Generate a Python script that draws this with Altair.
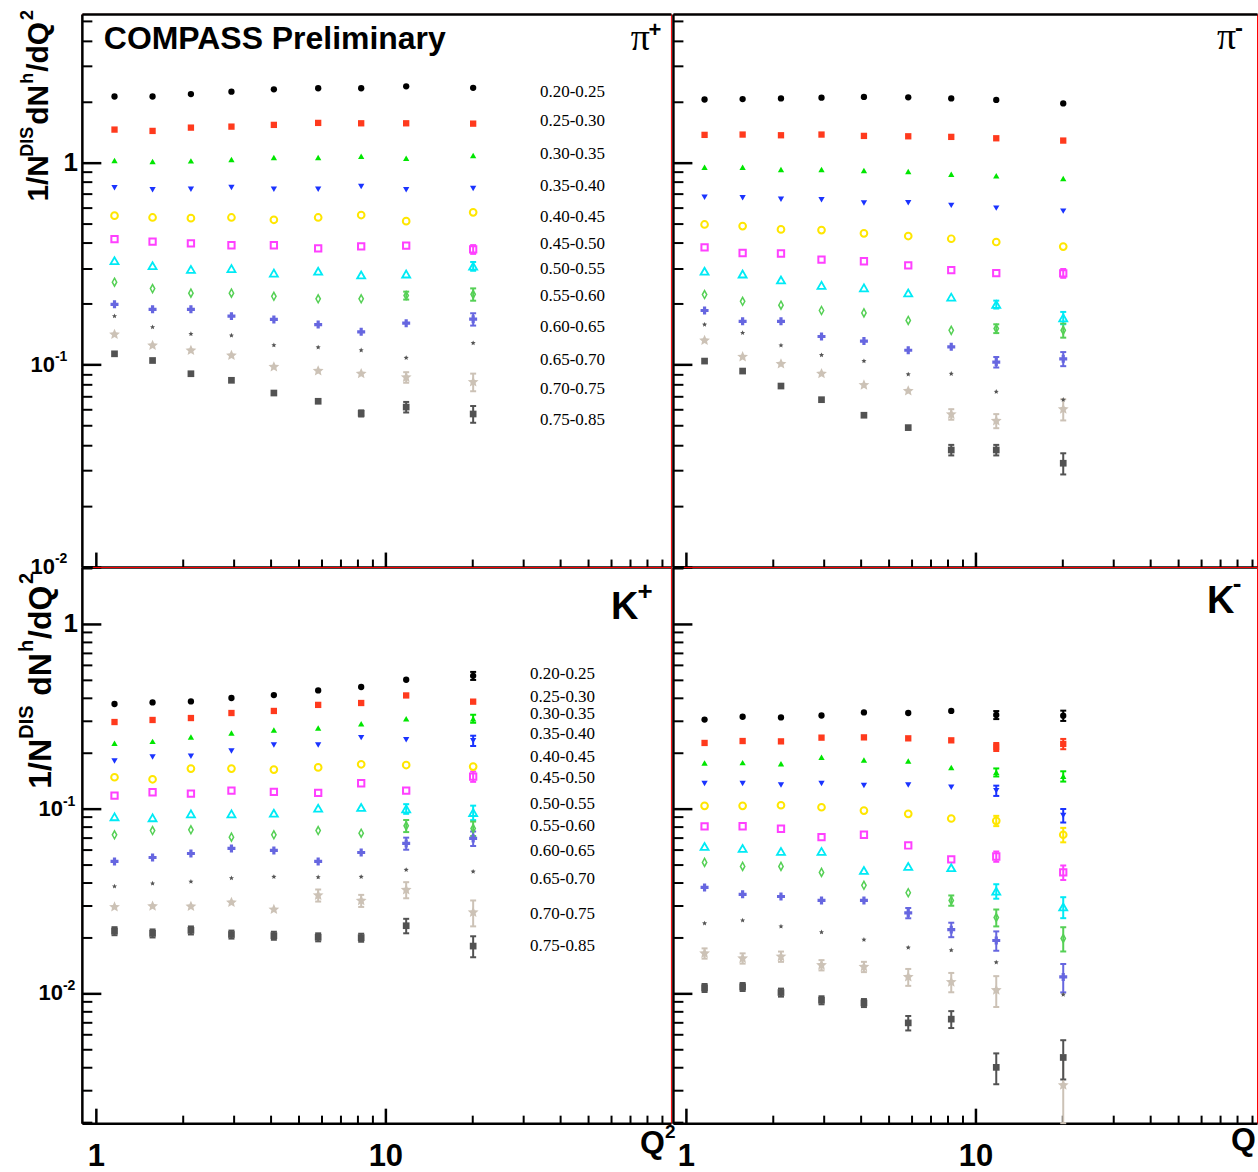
import altair as alt
import pandas as pd

# ---------------- data ----------------
Q2_BINS = [1.16, 1.57, 2.13, 2.94, 4.12, 5.86, 8.25, 11.8, 20.1]
Z_BINS = ["0.20-0.25", "0.25-0.30", "0.30-0.35", "0.35-0.40", "0.40-0.45", "0.45-0.50",
          "0.50-0.55", "0.55-0.60", "0.60-0.65", "0.65-0.70", "0.70-0.75", "0.75-0.85"]

PI_PLUS = [
    [2.12, 2.12, 2.18, 2.24, 2.30, 2.33, 2.33, 2.38, 2.34],
    [1.455, 1.433, 1.488, 1.505, 1.535, 1.570, 1.563, 1.563, 1.557],
    [1.023, 1.011, 1.019, 1.035, 1.058, 1.058, 1.074, 1.050, 1.083],
    [0.750, 0.733, 0.738, 0.753, 0.738, 0.738, 0.761, 0.733, 0.744],
    [0.546, 0.535, 0.531, 0.535, 0.521, 0.535, 0.550, 0.513, 0.567],
    [0.418, 0.406, 0.398, 0.390, 0.390, 0.376, 0.385, 0.388, 0.372],
    [0.327, 0.309, 0.296, 0.299, 0.284, 0.290, 0.278, 0.281, 0.307],
    [0.256, 0.238, 0.226, 0.226, 0.218, 0.212, 0.212, 0.220, 0.223],
    [0.199, 0.188, 0.188, 0.174, 0.1675, 0.158, 0.1455, 0.1605, 0.168],
    [0.174, 0.1535, 0.142, 0.1396, 0.125, 0.122, 0.118, 0.1083, 0.128],
    [0.1413, 0.1247, 0.1178, 0.1112, 0.0977, 0.0933, 0.0903, 0.0867, 0.0822],
    [0.1133, 0.105, 0.0903, 0.0838, 0.0725, 0.0660, 0.0575, 0.0618, 0.0571],
]
PI_MINUS = [
    [2.05, 2.06, 2.075, 2.093, 2.11, 2.10, 2.075, 2.04, 1.96],
    [1.37, 1.375, 1.364, 1.375, 1.354, 1.348, 1.339, 1.318, 1.284],
    [0.948, 0.948, 0.924, 0.924, 0.913, 0.903, 0.876, 0.860, 0.834],
    [0.674, 0.669, 0.659, 0.655, 0.630, 0.633, 0.614, 0.595, 0.575],
    [0.494, 0.485, 0.467, 0.4635, 0.4466, 0.433, 0.420, 0.4045, 0.384],
    [0.381, 0.357, 0.355, 0.331, 0.325, 0.310, 0.294, 0.284, 0.2833],
    [0.290, 0.281, 0.2625, 0.247, 0.240, 0.2265, 0.216, 0.1986, 0.1706],
    [0.2225, 0.206, 0.197, 0.1855, 0.1805, 0.1656, 0.148, 0.151, 0.148],
    [0.1855, 0.164, 0.164, 0.138, 0.131, 0.118, 0.1227, 0.1031, 0.107],
    [0.158, 0.1438, 0.1247, 0.1117, 0.1043, 0.0897, 0.0903, 0.0736, 0.0672],
    [0.132, 0.1095, 0.101, 0.0903, 0.0794, 0.0742, 0.0569, 0.0528, 0.0603],
    [0.1043, 0.0931, 0.0785, 0.0672, 0.0563, 0.0489, 0.0379, 0.0379, 0.0326],
]
K_PLUS = [
    [0.368, 0.3755, 0.380, 0.3967, 0.4116, 0.436, 0.455, 0.498, 0.523],
    [0.294, 0.3016, 0.309, 0.329, 0.3375, 0.364, 0.3727, 0.4095, 0.379],
    [0.2254, 0.231, 0.244, 0.2567, 0.2663, 0.273, 0.288, 0.3066, 0.3066],
    [0.181, 0.190, 0.1919, 0.205, 0.221, 0.221, 0.242, 0.236, 0.233],
    [0.1477, 0.144, 0.1645, 0.1645, 0.1625, 0.167, 0.1736, 0.172, 0.1687],
    [0.1175, 0.1225, 0.1205, 0.125, 0.123, 0.1215, 0.137, 0.125, 0.149],
    [0.0902, 0.0891, 0.0936, 0.0936, 0.0943, 0.1004, 0.1013, 0.0996, 0.0951],
    [0.0721, 0.076, 0.0767, 0.070, 0.0721, 0.076, 0.0735, 0.0806, 0.078],
    [0.0517, 0.0543, 0.0571, 0.0608, 0.0593, 0.0517, 0.0578, 0.0647, 0.0689],
    [0.0379, 0.0393, 0.0402, 0.0420, 0.0427, 0.0425, 0.0427, 0.0466, 0.0456],
    [0.0293, 0.0296, 0.0295, 0.0310, 0.0284, 0.0339, 0.0317, 0.0363, 0.0274],
    [0.0217, 0.0211, 0.0219, 0.0208, 0.0205, 0.0201, 0.0200, 0.0232, 0.0180],
]
K_MINUS = [
    [0.303, 0.314, 0.3114, 0.319, 0.3315, 0.329, 0.3375, 0.321, 0.3184],
    [0.2265, 0.232, 0.231, 0.242, 0.2428, 0.2399, 0.234, 0.2156, 0.2238],
    [0.1766, 0.1772, 0.175, 0.1893, 0.1833, 0.181, 0.167, 0.157, 0.1495],
    [0.1365, 0.1365, 0.134, 0.1365, 0.1331, 0.134, 0.1303, 0.125, 0.0917],
    [0.1034, 0.1034, 0.1042, 0.1016, 0.0975, 0.0936, 0.0883, 0.0858, 0.0721],
    [0.080, 0.0802, 0.0777, 0.070, 0.0721, 0.0631, 0.053, 0.055, 0.0451],
    [0.0623, 0.0608, 0.0586, 0.0586, 0.0462, 0.0486, 0.0478, 0.0357, 0.0293],
    [0.0511, 0.0486, 0.0486, 0.0451, 0.0384, 0.0350, 0.0318, 0.0257, 0.0198],
    [0.0374, 0.0343, 0.0334, 0.0318, 0.0318, 0.0272, 0.0221, 0.0193, 0.01225],
    [0.0239, 0.0248, 0.0230, 0.0214, 0.0195, 0.01767, 0.0171, 0.0147, 0.00984],
    [0.01644, 0.01545, 0.0158, 0.0142, 0.0139, 0.01225, 0.0115, 0.0104, 0.00318],
    [0.01069, 0.01082, 0.01009, 0.00917, 0.00886, 0.00691, 0.00724, 0.00397, 0.00449],
]

# relative errors (series index, Q2 bin index) -> fraction, only where visible
ERR_PI_PLUS = {(11, 8): 0.095, (11, 7): 0.06, (11, 6): 0.035, (10, 8): 0.10, (10, 7): 0.06,
               (8, 8): 0.07, (7, 8): 0.07, (7, 7): 0.045, (6, 8): 0.05, (5, 8): 0.05}
ERR_PI_MINUS = {(11, 8): 0.12, (11, 7): 0.06, (11, 6): 0.06, (10, 8): 0.12, (10, 7): 0.08,
                (10, 6): 0.06, (8, 8): 0.08, (8, 7): 0.06, (7, 8): 0.08, (7, 7): 0.05,
                (6, 8): 0.07, (6, 7): 0.045, (5, 8): 0.05}
ERR_K_PLUS = {(11, 8): 0.13, (11, 7): 0.09, (11, 6): 0.05, (11, 5): 0.05, (11, 4): 0.05,
              (11, 3): 0.05, (11, 2): 0.05, (11, 1): 0.05, (11, 0): 0.05,
              (10, 8): 0.16, (10, 7): 0.10, (10, 6): 0.075, (10, 5): 0.075,
              (8, 8): 0.09, (8, 7): 0.075, (7, 8): 0.09, (7, 7): 0.075, (6, 8): 0.09,
              (6, 7): 0.06, (5, 8): 0.064, (3, 8): 0.064, (2, 8): 0.05, (0, 8): 0.05}
ERR_K_MINUS = {(11, 0): 0.05, (11, 1): 0.05, (11, 2): 0.05, (11, 3): 0.05, (11, 4): 0.05,
               (11, 5): 0.09, (11, 6): 0.105, (11, 7): 0.19, (11, 8): 0.24,
               (10, 0): 0.064, (10, 1): 0.064, (10, 2): 0.064, (10, 3): 0.064, (10, 4): 0.064,
               (10, 5): 0.105, (10, 6): 0.12, (10, 7): 0.19, (10, 8): 0.45,
               (8, 5): 0.064, (8, 6): 0.09, (8, 7): 0.12, (8, 8): 0.175,
               (7, 6): 0.064, (7, 7): 0.105, (7, 8): 0.15, (6, 7): 0.09, (6, 8): 0.13,
               (5, 7): 0.064, (5, 8): 0.09, (4, 7): 0.064, (4, 8): 0.09,
               (3, 7): 0.064, (3, 8): 0.084, (2, 7): 0.05, (2, 8): 0.064,
               (1, 7): 0.05, (1, 8): 0.064, (0, 7): 0.05, (0, 8): 0.064}

# annotation positions for the z-bin labels (data coordinates)
LABEL_Q2_PI = 34.2
LABEL_Y_PI = [2.24, 1.612, 1.099, 0.767, 0.537, 0.395, 0.2974, 0.218, 0.154, 0.1054, 0.0762, 0.0533]
LABEL_Q2_K = 31.6
LABEL_Y_K = [0.535, 0.400, 0.325, 0.2535, 0.191, 0.1466, 0.106, 0.080, 0.0586, 0.0417, 0.027, 0.01795]

Y_TICK_VALUES = [1, 0.1, 0.01]
Y_TICK_MANT = ["1", "10", "10"]
Y_TICK_EXP = ["", "-1", "-2"]
X_MAJOR = [1, 10]
X_MINOR = [2, 3, 4, 5, 6, 7, 8, 9, 20, 30, 40, 50, 60, 70, 80, 90]
Y_MAJOR = [0.01, 0.1, 1]
Y_MINOR = [0.002, 0.003, 0.004, 0.005, 0.006, 0.007, 0.008, 0.009,
           0.02, 0.03, 0.04, 0.05, 0.06, 0.07, 0.08, 0.09,
           0.2, 0.3, 0.4, 0.5, 0.6, 0.7, 0.8, 0.9, 2, 3, 4, 5]

# ---------------- styles ----------------
SANS = "Liberation Sans"
SERIF = "Liberation Serif"
STAR = ("M0,-1L0.270,-0.372L0.951,-0.309L0.437,0.142L0.588,0.809L0,0.46"
        "L-0.588,0.809L-0.437,0.142L-0.951,-0.309L-0.270,-0.372Z")
THIN_DIAMOND = "M0,-1L0.55,0L0,1L-0.55,0Z"
SERIES_COLOR = ["#000000", "#ff3a1d", "#00e600", "#1a33ff", "#ffe600", "#ff40ff",
                "#00eaf5", "#55d055", "#6666e0", "#555555", "#ccc2b6", "#525252"]
SERIES_FILL = ["#000000", "#ff3a1d", "#00e600", "#1a33ff", "transparent", "transparent",
               "transparent", "transparent", "#6666e0", "#555555", "#ccc2b6", "#525252"]
SERIES_SHAPE = ["circle", "square", "triangle-up", "triangle-down", "circle", "square",
                "triangle-up", THIN_DIAMOND, "cross", STAR, STAR, "square"]
SERIES_SIZE = [40, 40, 40, 40, 45, 40, 64, 64, 64, 28, 130, 45]
SERIES_SW = [0, 0, 0, 0, 2, 2, 1.8, 1.5, 0, 0, 0, 0]

ONE = pd.DataFrame({"k": [0]})


def make_df(values, errs):
    rows = []
    for si, z in enumerate(Z_BINS):
        for bi, q in enumerate(Q2_BINS):
            v = values[si][bi]
            e = errs.get((si, bi), 0.0)
            rows.append({"series": z, "q2": q, "val": v, "lo": v * (1 - e),
                         "hi": v * (1 + e), "err": e,
                         "sz": SERIES_SIZE[si], "sw": SERIES_SW[si]})
    return pd.DataFrame(rows)


def txt(s, x, y, size, font=SANS, weight="bold", align="left", baseline="alphabetic",
        angle=0, opacity=1):
    return alt.Chart(ONE).mark_text(
        text=s, font=font, fontWeight=weight, fontSize=size, align=align,
        baseline=baseline, angle=angle, color="black", opacity=opacity
    ).encode(x=alt.value(x), y=alt.value(y))


def panel(values, errs, W, H, xdom, ydom, left, top, extras, labels=None, ten_x=-27, exp_dy=-8):
    df = make_df(values, errs)
    xs = alt.Scale(type="log", domain=xdom, nice=False)
    ys = alt.Scale(type="log", domain=ydom, nice=False, clamp=True)
    common = dict(grid=False, title=None)
    ax_x_major = alt.Axis(orient="top", offset=-H, values=X_MAJOR, tickSize=15, tickWidth=2.5,
                          tickColor="black", labels=False, domain=True, domainColor="black",
                          domainWidth=2.5, **common)
    ax_y_major = alt.Axis(orient="right", offset=-W, values=Y_MAJOR, tickSize=19, tickWidth=2.5,
                          tickColor="black", labels=False, domain=True, domainColor="black",
                          domainWidth=2.5, **common)
    ax_x_minor = alt.Axis(orient="top", offset=-H, values=X_MINOR, tickSize=8, tickWidth=2,
                          tickColor="black", labels=False, domain=False, **common)
    ax_y_minor = alt.Axis(orient="right", offset=-W, values=Y_MINOR, tickSize=10, tickWidth=2,
                          tickColor="black", labels=False, domain=False, **common)
    if top:
        ax_x_third = alt.Axis(orient="top", ticks=False, labels=False, domain=True,
                              domainColor="black", domainWidth=2.5, **common)
    else:
        ax_x_third = alt.Axis(orient="bottom", values=X_MAJOR, ticks=False, domain=False,
                              labelExpr="datum.value >= 10 ? '10' : '1'",
                              labelFont=SANS, labelFontWeight="bold", labelFontSize=31,
                              labelColor="black", labelPadding=18, labelFlush=False,
                              labelOverlap=False, **common)

    sc_stroke = alt.Scale(domain=Z_BINS, range=SERIES_COLOR)
    pts = alt.Chart(df).mark_point(opacity=1).encode(
        x=alt.X("q2:Q", scale=xs, axis=ax_x_major),
        y=alt.Y("val:Q", scale=ys, axis=ax_y_major),
        shape=alt.Shape("series:N", scale=alt.Scale(domain=Z_BINS, range=SERIES_SHAPE), legend=None),
        fill=alt.Fill("series:N", scale=alt.Scale(domain=Z_BINS, range=SERIES_FILL), legend=None),
        stroke=alt.Stroke("series:N", scale=sc_stroke, legend=None),
        size=alt.Size("sz:Q", scale=None, legend=None),
        strokeWidth=alt.StrokeWidth("sw:Q", scale=None, legend=None),
    )
    err = alt.Chart(df).transform_filter("datum.err > 0").mark_rule(strokeWidth=2, opacity=1).encode(
        x=alt.X("q2:Q", scale=xs, axis=ax_x_minor),
        y=alt.Y("lo:Q", scale=ys, axis=ax_y_minor),
        y2="hi:Q",
        color=alt.Color("series:N", scale=sc_stroke, legend=None),
    )
    caps = alt.Chart(df).transform_filter("datum.err > 0").transform_fold(
        ["lo", "hi"], as_=["end", "cap"]
    ).mark_tick(orient="horizontal", size=6, thickness=2, opacity=1).encode(
        x=alt.X("q2:Q", scale=xs, axis=ax_x_third),
        y=alt.Y("cap:Q", scale=ys, axis=None),
        color=alt.Color("series:N", scale=sc_stroke, legend=None),
    )
    layers = [err, caps, pts]
    if left:
        yt = pd.DataFrame({"v": Y_TICK_VALUES, "m": Y_TICK_MANT, "e": Y_TICK_EXP})
        layers.append(alt.Chart(yt).transform_filter("datum.v == 1").mark_text(
            align="right", baseline="middle", font=SANS, fontWeight="bold", fontSize=26,
            color="black").encode(x=alt.value(-4), y=alt.Y("v:Q", scale=ys, axis=None), text="m:N"))
        layers.append(alt.Chart(yt).transform_filter("datum.v < 1").mark_text(
            align="right", baseline="middle", font=SANS, fontWeight="bold", fontSize=22,
            color="black").encode(x=alt.value(ten_x), y=alt.Y("v:Q", scale=ys, axis=None), text="m:N"))
        layers.append(alt.Chart(yt).transform_filter("datum.v < 1").mark_text(
            align="left", baseline="middle", font=SANS, fontWeight="bold", fontSize=14,
            dy=exp_dy, color="black").encode(x=alt.value(ten_x), y=alt.Y("v:Q", scale=ys, axis=None),
                                             text="e:N"))
    if labels is not None:
        lq, ly = labels
        lab = pd.DataFrame({"t": Z_BINS, "lx": [lq] * len(Z_BINS), "ly": ly})
        layers.append(alt.Chart(lab).mark_text(
            align="left", baseline="middle", font=SERIF, fontSize=17, color="black"
        ).encode(x=alt.X("lx:Q", scale=xs, axis=None), y=alt.Y("ly:Q", scale=ys, axis=None),
                 text="t:N"))
    layers += extras
    return alt.layer(*layers).properties(width=W, height=H).resolve_axis(
        x="independent", y="independent")


W_L, W_R = 590, 585
H_T, H_B = 554, 557
XDOM_L = [0.8948, 96.9]
XDOM_R = [0.902, 93.85]
YDOM_T = [0.01, 5.43]
YDOM_B = [0.00198, 2.03]

anchor = alt.Chart(ONE).mark_rule(opacity=0).encode(
    x=alt.value(-81), x2=alt.value(-81), y=alt.value(-12), y2=alt.value(-12))

tl_extras = [
    anchor,
    txt("COMPASS Preliminary", 22, 35, 32),
    txt("\u03c0", 569, 36, 38, font=SERIF, weight="normal", align="right"),
    txt("+", 574, 16, 22, align="center", baseline="middle"),
    txt("1/N", -34, 188, 30, angle=270),
    txt("dN", -34, 111, 30, angle=270),
    txt("/dQ", -34, 58, 30, angle=270),
    txt("DIS", -49, 143, 18, angle=270),
    txt("h", -49, 70, 18, angle=270),
    txt("2", -49, 6, 18, angle=270),
]
tr_extras = [
    txt("\u03c0", 564, 35, 38, font=SERIF, weight="normal", align="right"),
    txt("-", 567, 15, 24, align="center", baseline="middle"),
]
bl_extras = [
    txt("K", 530, 52, 38),
    txt("+", 564, 25, 26, align="center", baseline="middle"),
    txt("1/N", -31, 222, 32, angle=270),
    txt("dN", -31, 129, 32, angle=270),
    txt("/dQ", -31, 72, 32, angle=270),
    txt("DIS", -49, 172, 20, angle=270),
    txt("h", -49, 85, 20, angle=270),
    txt("2", -49, 17, 20, angle=270),
    txt("Q", 584, 587, 32, align="right"),
    txt("2", 584, 572, 19),
]
br_extras = [
    txt("K", 535, 46, 38),
    txt("-", 565, 17, 26, align="center", baseline="middle"),
    txt("Q", 559, 584, 32),
]

TL = panel(PI_PLUS, ERR_PI_PLUS, W_L, H_T, XDOM_L, YDOM_T, True, True, tl_extras,
           labels=(LABEL_Q2_PI, LABEL_Y_PI), ten_x=-27, exp_dy=-8)
TR = panel(PI_MINUS, ERR_PI_MINUS, W_R, H_T, XDOM_R, YDOM_T, False, True, tr_extras)
BL = panel(K_PLUS, ERR_K_PLUS, W_L, H_B, XDOM_L, YDOM_B, True, False, bl_extras,
           labels=(LABEL_Q2_K, LABEL_Y_K), ten_x=-19, exp_dy=-7)
BR = panel(K_MINUS, ERR_K_MINUS, W_R, H_B, XDOM_R, YDOM_B, False, False, br_extras)

chart = alt.concat(TL, TR, BL, BR, columns=2, spacing={"row": 0, "column": 2},
                   bounds="flush").properties(
    padding=0
).configure_view(stroke="#ff0000", strokeWidth=1).configure_axis(grid=False)

chart.save("out.html", embed_options={"renderer": "svg", "actions": False})
